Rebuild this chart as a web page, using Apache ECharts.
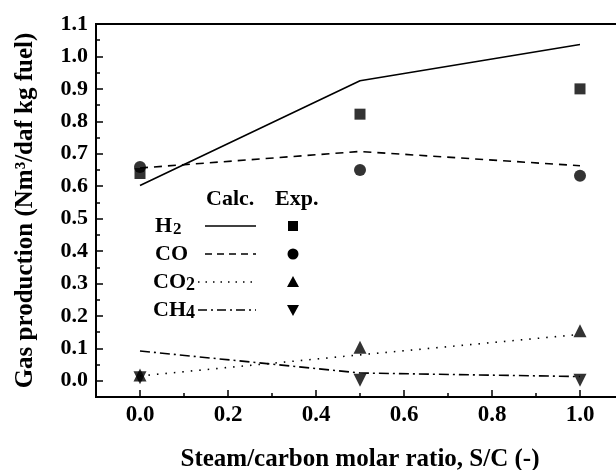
<!DOCTYPE html>
<html><head><meta charset="utf-8">
<script src="https://cdn.jsdelivr.net/npm/echarts@6/dist/echarts.min.js"></script>
<style>html,body{margin:0;padding:0;background:#fff}#c{width:616px;height:470px}</style>
</head><body><div id="c"></div>
<script>
const ratios = [0, 0.5, 1.0];
const h2Calc = [0.602, 0.925, 1.037];
const coCalc = [0.656, 0.707, 0.663];
const co2Calc = [0.015, 0.080, 0.143];
const ch4Calc = [0.092, 0.024, 0.013];
const h2Exp = [0.639, 0.822, 0.900];
const coExp = [0.659, 0.650, 0.632];
const co2Exp = [0.018, 0.103, 0.154];
const ch4Exp = [0.009, 0.002, 0.002];
const xMajorTicks = [0, 0.2, 0.4, 0.6, 0.8, 1.0];
const xMinorTicks = [0.1, 0.3, 0.5, 0.7, 0.9];
const yMajorTicks = [0, 0.1, 0.2, 0.3, 0.4, 0.5, 0.6, 0.7, 0.8, 0.9, 1.0, 1.1];
const yMinorTicks = [0.05, 0.15, 0.25, 0.35, 0.45, 0.55, 0.65, 0.75, 0.85, 0.95, 1.05];
const xTitle = 'Steam/carbon molar ratio, S/C (-)';
const yTitle = 'Gas production (Nm\u00B3/daf kg fuel)';

const FONT = "'Liberation Serif', 'Times New Roman', serif";
const pair = arr => ratios.map((x, i) => [x, arr[i]]);
const chart = echarts.init(document.getElementById('c'), null, {renderer: 'canvas'});

const txt = (text, x, y, size, align) => ({
  type: 'text', x, y,
  style: {text, font: `bold ${size}px ${FONT}`, fill: '#000', textAlign: align || 'left', textVerticalAlign: 'middle'}
});
const seg = (x1, x2, y, dash) => ({
  type: 'line', shape: {x1, y1: y, x2, y2: y},
  style: {stroke: '#000', lineWidth: 1.5, lineDash: dash || null}
});
const mx = 293;
const rows = [226, 254, 282, 310];

const fmt = v => v.toFixed(1);

chart.setOption({
  backgroundColor: '#fff',
  animation: false,
  grid: {left: 96, right: -8, top: 24, bottom: 73, outerBoundsMode: 'none', containLabel: false,
    show: true, borderColor: '#000', borderWidth: 2, backgroundColor: 'transparent'},
  xAxis: [{
    type: 'value', min: -0.1, max: 1.1, position: 'bottom',
    splitLine: {show: false},
    axisLine: {show: true, onZero: false, lineStyle: {color: '#000', width: 2}},
    axisTick: {show: true, inside: true, length: 7, lineStyle: {color: '#000', width: 1.5}, customValues: xMajorTicks},
    axisLabel: {customValues: xMajorTicks, formatter: fmt, color: '#000', fontFamily: FONT, fontWeight: 'bold', fontSize: 23, margin: 7},
    name: xTitle, nameLocation: 'middle', nameGap: 50,
    nameTextStyle: {color: '#000', fontFamily: FONT, fontWeight: 'bold', fontSize: 25}
  }, {
    type: 'value', min: -0.1, max: 1.1, position: 'bottom',
    splitLine: {show: false},
    axisLine: {show: false, onZero: false},
    axisTick: {show: true, inside: true, length: 4, lineStyle: {color: '#000', width: 1.5}, customValues: xMinorTicks},
    axisLabel: {show: false}
  }],
  yAxis: [{
    type: 'value', min: -0.05, max: 1.1, position: 'left',
    splitLine: {show: false},
    axisLine: {show: true, onZero: false, lineStyle: {color: '#000', width: 2}},
    axisTick: {show: true, inside: true, length: 7, lineStyle: {color: '#000', width: 1.5}, customValues: yMajorTicks},
    axisLabel: {customValues: yMajorTicks, formatter: fmt, color: '#000', fontFamily: FONT, fontWeight: 'bold', fontSize: 22, margin: 8},
    name: yTitle, nameLocation: 'middle', nameGap: 58, nameRotate: 90,
    nameTextStyle: {color: '#000', fontFamily: FONT, fontWeight: 'bold', fontSize: 25}
  }, {
    type: 'value', min: -0.05, max: 1.1, position: 'left',
    splitLine: {show: false},
    axisLine: {show: false, onZero: false},
    axisTick: {show: true, inside: true, length: 4, lineStyle: {color: '#000', width: 1.5}, customValues: yMinorTicks},
    axisLabel: {show: false}
  }],
  series: [
    {type: 'line', name: 'H2 calc', data: pair(h2Calc), showSymbol: false, symbol: 'none', lineStyle: {color: '#000', width: 1.6, type: 'solid'}},
    {type: 'line', name: 'CO calc', data: pair(coCalc), showSymbol: false, symbol: 'none', lineStyle: {color: '#000', width: 1.6, type: [8, 6]}},
    {type: 'line', name: 'CO2 calc', data: pair(co2Calc), showSymbol: false, symbol: 'none', lineStyle: {color: '#000', width: 1.6, type: [1.5, 7]}},
    {type: 'line', name: 'CH4 calc', data: pair(ch4Calc), showSymbol: false, symbol: 'none', lineStyle: {color: '#000', width: 1.6, type: [10, 4, 2, 4]}},
    {type: 'scatter', name: 'H2 exp', data: pair(h2Exp), symbol: 'rect', symbolSize: 11, itemStyle: {color: '#000'}},
    {type: 'scatter', name: 'CO exp', data: pair(coExp), symbol: 'circle', symbolSize: 12, itemStyle: {color: '#000'}},
    {type: 'scatter', name: 'CO2 exp', data: pair(co2Exp), symbol: 'triangle', symbolSize: 13, itemStyle: {color: '#000'}},
    {type: 'scatter', name: 'CH4 exp', data: pair(ch4Exp), symbol: 'triangle', symbolRotate: 180, symbolSize: 13, itemStyle: {color: '#000'}}
  ],
  graphic: [
    txt('Calc.', 206, 199, 22), txt('Exp.', 275, 199, 22),
    txt('H', 155, rows[0], 22), txt('2', 173, rows[0] + 4, 17),
    txt('CO', 155, rows[1], 22),
    txt('CO', 153, rows[2], 22), txt('2', 186, rows[2] + 3, 18),
    txt('CH', 153, rows[3], 22), txt('4', 186, rows[3] + 3, 18),
    seg(205, 256, rows[0]),
    seg(205, 256, rows[1], [7, 5]),
    seg(198, 252, rows[2], [1.5, 6]),
    seg(198, 256, rows[3], [9, 4, 2, 4]),
    {type: 'rect', shape: {x: mx - 5, y: rows[0] - 5, width: 10, height: 10}, style: {fill: '#000'}},
    {type: 'circle', shape: {cx: mx, cy: rows[1], r: 5.5}, style: {fill: '#000'}},
    {type: 'polygon', shape: {points: [[mx, rows[2] - 6], [mx - 6, rows[2] + 5], [mx + 6, rows[2] + 5]]}, style: {fill: '#000'}},
    {type: 'polygon', shape: {points: [[mx, rows[3] + 6], [mx - 6, rows[3] - 5], [mx + 6, rows[3] - 5]]}, style: {fill: '#000'}}
  ]
});
</script>
</body></html>
